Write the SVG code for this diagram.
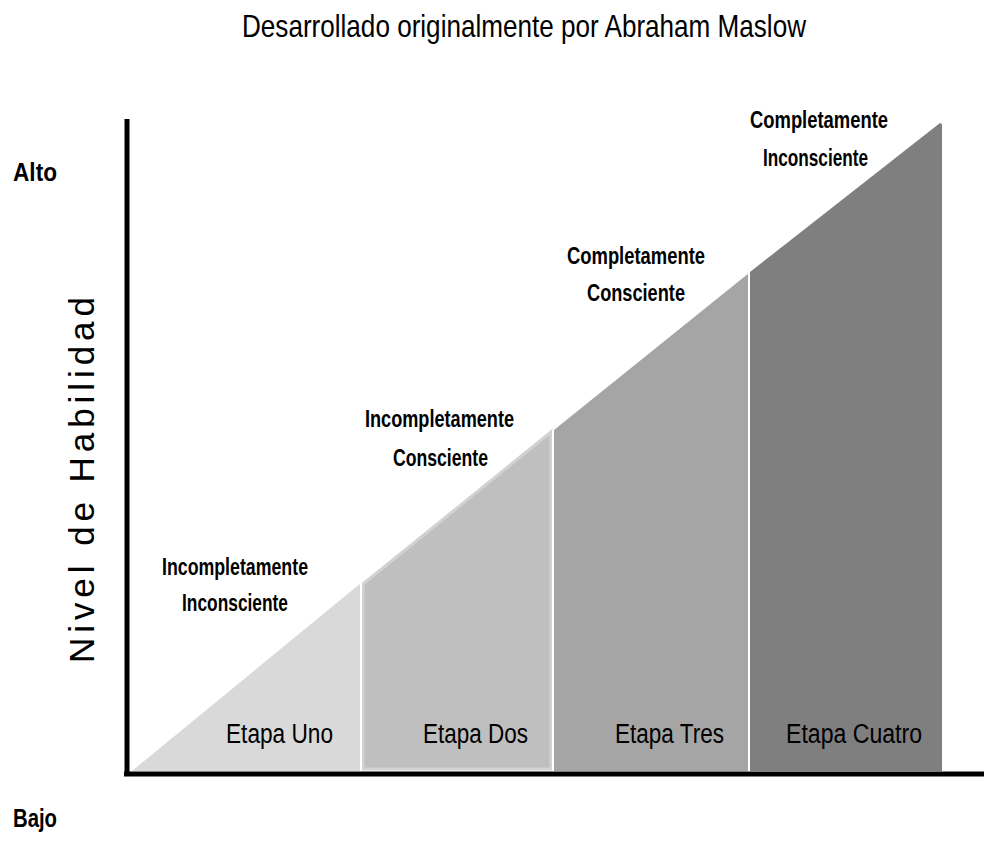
<svg xmlns="http://www.w3.org/2000/svg" width="984" height="843" viewBox="0 0 984 843">
<style>
.cond{font-family:"Liberation Sans",Arial,sans-serif;}
.title{font-size:32px;fill:#000;}
.lbl{font-size:23px;font-weight:bold;fill:#000;}
.stage{font-size:27px;fill:#000;}
.axis{stroke:#000;stroke-width:5;fill:none;}
.div{stroke:#fff;stroke-width:2;}
</style>
<rect width="984" height="843" fill="#fff"/>
<text class="cond title" x="242" y="37" textLength="564" lengthAdjust="spacingAndGlyphs">Desarrollado originalmente por Abraham Maslow</text>
<g id="stage1">
<polygon points="132,771 361,583 361,771" fill="#d9d9d9"/>
<text class="cond lbl" x="162" y="575" textLength="146" lengthAdjust="spacingAndGlyphs">Incompletamente</text>
<text class="cond lbl" x="182" y="611" textLength="106" lengthAdjust="spacingAndGlyphs">Inconsciente</text>
<text class="cond stage" x="226" y="743" textLength="107" lengthAdjust="spacingAndGlyphs">Etapa Uno</text>
</g>
<g id="stage2">
<polygon points="363,584 551,432 551,769 363,769" fill="#bfbfbf" stroke="#d2d2d2" stroke-width="3"/>
<text class="cond lbl" x="365" y="427" textLength="149" lengthAdjust="spacingAndGlyphs">Incompletamente</text>
<text class="cond lbl" x="393" y="466" textLength="95" lengthAdjust="spacingAndGlyphs">Consciente</text>
<text class="cond stage" x="423" y="743" textLength="105" lengthAdjust="spacingAndGlyphs">Etapa Dos</text>
</g>
<g id="stage3">
<polygon points="554,430 749,273 749,771 554,771" fill="#a5a5a5"/>
<text class="cond lbl" x="567" y="264" textLength="138" lengthAdjust="spacingAndGlyphs">Completamente</text>
<text class="cond lbl" x="587" y="301" textLength="98" lengthAdjust="spacingAndGlyphs">Consciente</text>
<text class="cond stage" x="615" y="743" textLength="109" lengthAdjust="spacingAndGlyphs">Etapa Tres</text>
</g>
<g id="stage4">
<polygon points="750,272 940,123 942,124 942,771 750,771" fill="#7f7f7f"/>
<text class="cond lbl" x="750" y="128" textLength="138" lengthAdjust="spacingAndGlyphs">Completamente</text>
<text class="cond lbl" x="763" y="166" textLength="105" lengthAdjust="spacingAndGlyphs">Inconsciente</text>
<text class="cond stage" x="786" y="743" textLength="136" lengthAdjust="spacingAndGlyphs">Etapa Cuatro</text>
</g>
<g id="connectors">
<line class="div" x1="361" y1="583" x2="361" y2="771"/>
<line class="div" x1="553" y1="430" x2="553" y2="771"/>
<line class="div" x1="749" y1="272" x2="749" y2="771"/>
<line class="axis" x1="127" y1="119" x2="127" y2="776"/>
<line class="axis" x1="124" y1="774" x2="984" y2="774"/>
</g>
<g id="labels">
<text class="cond" x="13" y="181" font-size="26" font-weight="bold" textLength="44" lengthAdjust="spacingAndGlyphs">Alto</text>
<text class="cond" x="13" y="827" font-size="26" font-weight="bold" textLength="44" lengthAdjust="spacingAndGlyphs">Bajo</text>
<text x="0" y="0" transform="translate(94,480) rotate(-90)" font-family="'Liberation Sans',Arial,sans-serif" font-size="35" text-anchor="middle" textLength="366" lengthAdjust="spacing">Nivel de Habilidad</text>
</g>
</svg>
